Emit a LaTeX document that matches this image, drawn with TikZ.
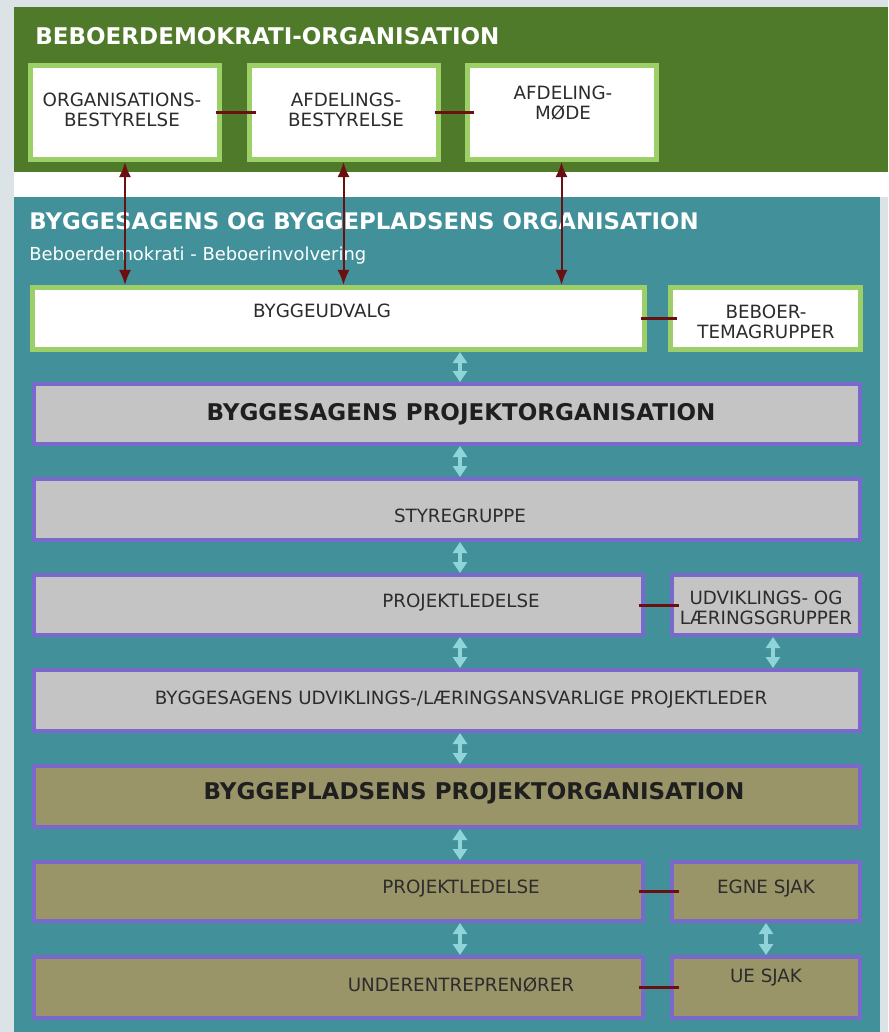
\documentclass[tikz,border=0pt]{standalone}
\usepackage{fontspec}
\setmainfont{DejaVu Sans}
\usetikzlibrary{arrows.meta,positioning}

\definecolor{bggrey}{HTML}{DCE3E7}
\definecolor{demogreen}{HTML}{4F7A29}
\definecolor{lightgreen}{HTML}{9DCF68}
\definecolor{orgteal}{HTML}{42909A}
\definecolor{boxgrey}{HTML}{C4C4C4}
\definecolor{boxpurple}{HTML}{7A68CC}
\definecolor{boxolive}{HTML}{9A9469}
\definecolor{linkred}{HTML}{6A1010}
\definecolor{arrowcyan}{HTML}{8FD4D8}
\definecolor{txtgrey}{HTML}{2C2C2C}

\tikzset{
  whitebox/.style={draw=lightgreen, line width=1mm, fill=white, inner sep=0pt},
  greybox/.style={draw=boxpurple, line width=0.8mm, fill=boxgrey, inner sep=0pt},
  olivebox/.style={greybox, fill=boxolive},
  boxtext/.style={text=txtgrey, font=\fontsize{10.4}{11.4}\selectfont, align=center, inner sep=0pt},
  boxhead/.style={text=black!88, font=\bfseries\fontsize{13.1}{15}\selectfont, inner sep=0pt},
  areatitle/.style={text=white, font=\bfseries\fontsize{13.1}{15}\selectfont, inner sep=0pt, anchor=base west},
  link/.style={linkred, line width=0.6mm, shorten <=-1.2mm, shorten >=-1.8mm},
  demolink/.style={linkred, line width=0.4mm, {Latex[length=3mm,width=2.4mm]}-{Latex[length=3mm,width=2.4mm]}},
  flow/.style={arrowcyan, line width=0.8mm, {Triangle[length=2.2mm,width=2.8mm]}-{Triangle[length=2.2mm,width=2.8mm]}}
}

\begin{document}
\begin{tikzpicture}[x=0.2mm, y=-0.2mm]
  \useasboundingbox (0,0) rectangle (888,1032);

  % backgrounds
  \fill[bggrey] (0,0) rectangle (888,1032);
  \fill[demogreen] (14,7) rectangle (888,172);
  \fill[white] (14,172) rectangle (888,197);
  \fill[orgteal] (14,197) rectangle (880,1032);

  \node[areatitle] (demotitle) at (35,45) {BEBOERDEMOKRATI-ORGANISATION};
  \node[areatitle, font=\bfseries\fontsize{13}{15}\selectfont] (orgtitle) at (29,230) {BYGGESAGENS OG BYGGEPLADSENS ORGANISATION};
  \node[text=white, font=\fontsize{10.2}{12}\selectfont, inner sep=0pt, anchor=base west] (orgsub) at (29,260) {Beboerdemokrati - Beboerinvolvering};

  % beboerdemokrati
  \node[whitebox, minimum width=37.8mm, minimum height=18.8mm] (orgbest) at (125,112.5) {};
  \node[whitebox, minimum width=37.8mm, minimum height=18.8mm] (afdbest) at (343.5,112.5) {};
  \node[whitebox, minimum width=37.8mm, minimum height=18.8mm] (afdmoede) at (561.5,112.5) {};
  \node[boxtext] (orgbest-t) at (122,110) {ORGANISATIONS-\\BESTYRELSE};
  \node[boxtext] (afdbest-t) at (346,110) {AFDELINGS-\\BESTYRELSE};
  \node[boxtext] (afdmoede-t) at (563,103) {AFDELING-\\MØDE};

  \draw[link] (orgbest) -- (afdbest);
  \draw[link] (afdbest) -- (afdmoede);

  % byggeudvalg
  \node[whitebox, minimum width=122.4mm, minimum height=12.4mm] (udvalg) at (338.5,318.5) {};
  \node[whitebox, minimum width=38mm, minimum height=12.4mm] (tema) at (765.5,318.5) {};
  \node[boxtext] (udvalg-t) at (322,311) {BYGGEUDVALG};
  \node[boxtext] (tema-t) at (766,322) {BEBOER-\\TEMAGRUPPER};
  \draw[link] (udvalg) -- (tema);

  \draw[demolink] (orgbest.south) -- (orgbest.south |- udvalg.north);
  \draw[demolink] (afdbest.south) -- (afdbest.south |- udvalg.north);
  \draw[demolink] (afdmoede.south) -- (afdmoede.south |- udvalg.north);

  % byggesagens projektorganisation
  \node[greybox, minimum width=165.2mm, minimum height=12mm] (sagorg) at (447,414) {};
  \node[greybox, minimum width=165.2mm, minimum height=12.2mm] (styre) at (447,509.5) {};
  \node[greybox, minimum width=121.8mm, minimum height=12mm] (sagled) at (338.5,605) {};
  \node[greybox, minimum width=37.6mm, minimum height=12mm] (laering) at (766,605) {};
  \node[greybox, minimum width=165.2mm, minimum height=12.2mm] (ansvarlig) at (447,700.5) {};
  \node[boxhead] (sagorg-t) at (461,414) {BYGGESAGENS PROJEKTORGANISATION};
  \node[boxtext] (styre-t) at (460,516) {STYREGRUPPE};
  \node[boxtext] (sagled-t) at (461,603) {PROJEKTLEDELSE};
  \node[boxtext] (laering-t) at (766,608) {UDVIKLINGS- OG\\LÆRINGSGRUPPER};
  \node[boxtext] (ansvarlig-t) at (461,700) {BYGGESAGENS UDVIKLINGS-/LÆRINGSANSVARLIGE PROJEKTLEDER};
  \draw[link] (sagled) -- (laering);

  % byggepladsens projektorganisation
  \node[olivebox, minimum width=165.2mm, minimum height=12.2mm] (pladsorg) at (447,796.5) {};
  \node[olivebox, minimum width=121.8mm, minimum height=11.8mm] (pladsled) at (338.5,891.5) {};
  \node[olivebox, minimum width=37.6mm, minimum height=11.8mm] (egne) at (766,891.5) {};
  \node[olivebox, minimum width=121.8mm, minimum height=12.2mm] (ue) at (338.5,987.5) {};
  \node[olivebox, minimum width=37.6mm, minimum height=12.2mm] (uesjak) at (766,987.5) {};
  \node[boxhead] (pladsorg-t) at (474,793) {BYGGEPLADSENS PROJEKTORGANISATION};
  \node[boxtext] (pladsled-t) at (461,889) {PROJEKTLEDELSE};
  \node[boxtext] (egne-t) at (766,889) {EGNE SJAK};
  \node[boxtext] (ue-t) at (461,985) {UNDERENTREPRENØRER};
  \node[boxtext] (uesjak-t) at (766,978) {UE SJAK};
  \draw[link] (pladsled) -- (egne);
  \draw[link] (ue) -- (uesjak);

  % flow between levels
  \coordinate (mid) at (460,0);
  \draw[flow] (mid |- udvalg.south) -- (mid |- sagorg.north);
  \draw[flow] (mid |- sagorg.south) -- (mid |- styre.north);
  \draw[flow] (mid |- styre.south) -- (mid |- sagled.north);
  \draw[flow] (mid |- sagled.south) -- (mid |- ansvarlig.north);
  \draw[flow] (mid |- ansvarlig.south) -- (mid |- pladsorg.north);
  \draw[flow] (mid |- pladsorg.south) -- (mid |- pladsled.north);
  \draw[flow] (mid |- pladsled.south) -- (mid |- ue.north);
  \draw[flow] ([xshift=1.4mm]laering.south) -- ([xshift=1.4mm]laering.south |- ansvarlig.north);
  \draw[flow] (egne.south) -- (egne.south |- uesjak.north);
\end{tikzpicture}
\end{document}
